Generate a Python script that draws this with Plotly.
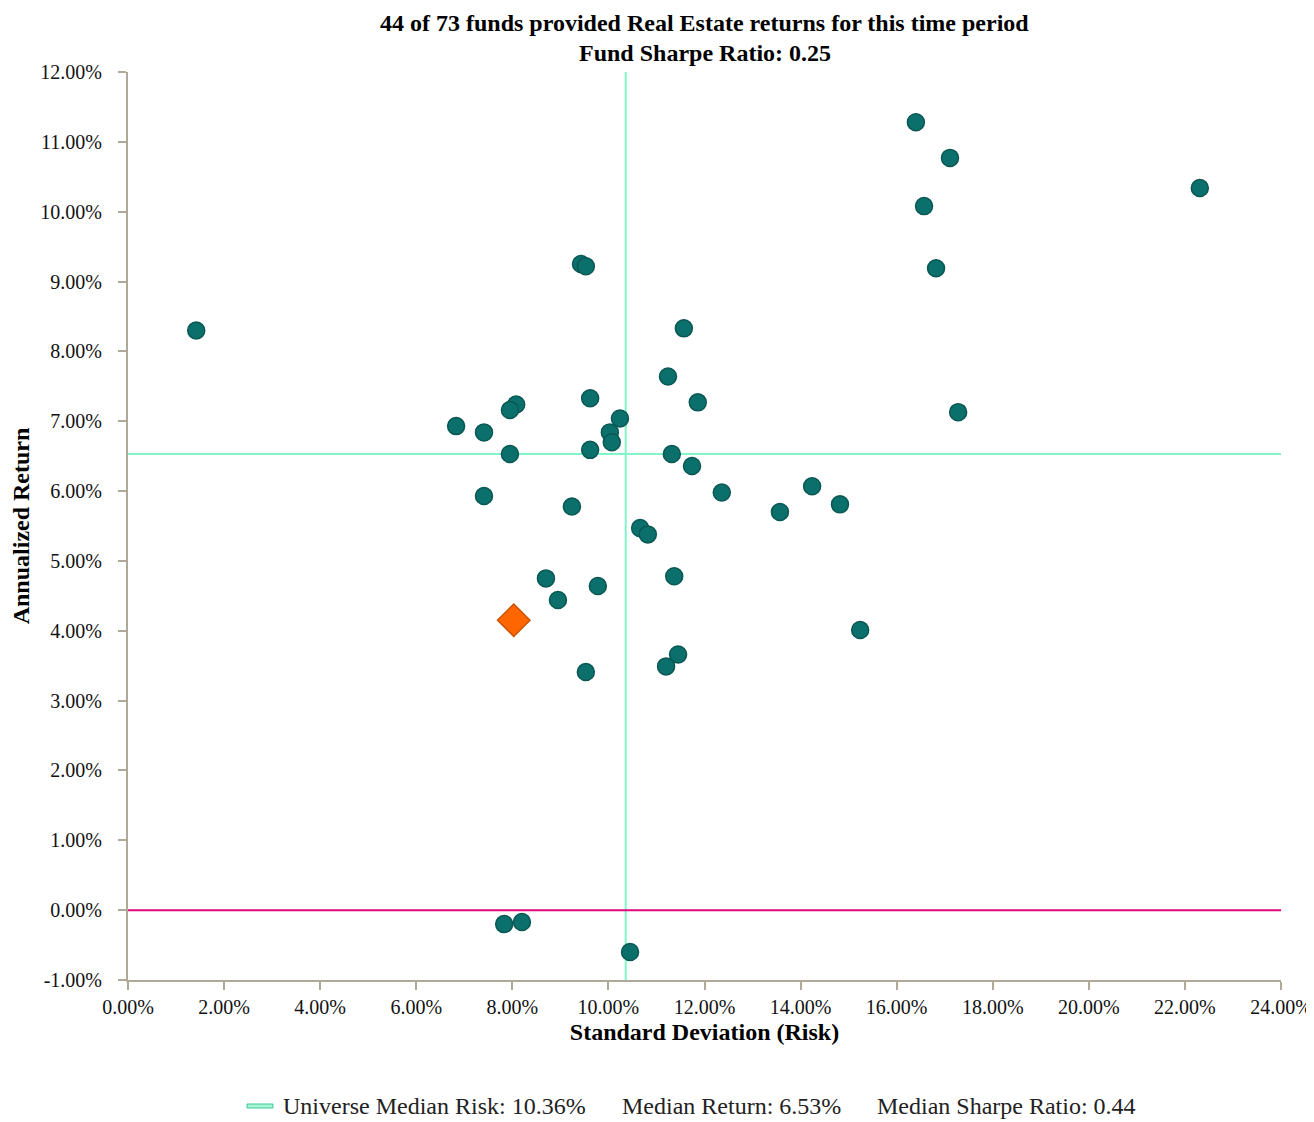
import plotly.graph_objects as go

# Universe funds: standard deviation (risk, %) and annualized return (%)
universe_risk = [16.40, 17.11, 16.57, 22.31, 16.82, 1.42, 9.43, 9.53, 11.57, 11.24,
                 11.86, 17.28, 9.62, 8.08, 7.95, 10.24, 6.83, 7.41, 10.03, 10.07,
                 7.95, 9.62, 11.32, 11.74, 12.36, 14.24, 14.82, 13.57, 7.41, 9.24,
                 10.66, 10.82, 8.70, 11.37, 9.78, 8.95, 15.24, 11.45, 11.20, 9.53,
                 7.83, 8.20, 10.45]
universe_return = [11.28, 10.77, 10.08, 10.34, 9.19, 8.30, 9.25, 9.22, 8.33, 7.64,
                   7.27, 7.13, 7.33, 7.24, 7.16, 7.04, 6.93, 6.84, 6.84, 6.70,
                   6.53, 6.59, 6.53, 6.36, 5.98, 6.07, 5.81, 5.70, 5.93, 5.78,
                   5.47, 5.38, 4.75, 4.78, 4.64, 4.44, 4.01, 3.66, 3.49, 3.41,
                   -0.20, -0.17, -0.60]

fund_risk = [8.03]
fund_return = [4.15]

median_risk = 10.36
median_return = 6.53
median_sharpe = 0.44
fund_sharpe = 0.25

x_ticks = [0, 2, 4, 6, 8, 10, 12, 14, 16, 18, 20, 22, 24]
y_ticks = [-1, 0, 1, 2, 3, 4, 5, 6, 7, 8, 9, 10, 11, 12]

FONT = "Liberation Serif, Times New Roman, serif"
AXIS_COLOR = "#b0a898"
MEDIAN_COLOR = "#80f5c8"
ZERO_COLOR = "#e0067c"

# plot area in screen pixels (page has an 8px body margin)
PX0, PX1, PY0, PY1 = 128, 1281, 72, 980
PW, PH = PX1 - PX0, PY1 - PY0


def px(xs):
    return (xs - PX0) / PW


def py(ys):
    return (PY1 - ys) / PH


fig = go.Figure()

fig.add_trace(go.Scatter(
    x=universe_risk, y=universe_return, mode="markers",
    marker=dict(size=17, color="#0b706b", line=dict(color="#0a5753", width=1.5)),
    showlegend=False, hoverinfo="x+y"))

fig.add_trace(go.Scatter(
    x=fund_risk, y=fund_return, mode="markers",
    marker=dict(symbol="diamond", size=25, color="#ff6600",
                line=dict(color="#c85400", width=1.5)),
    showlegend=False, hoverinfo="x+y"))

shapes = [
    dict(type="line", xref="x", yref="paper", x0=median_risk, x1=median_risk, y0=0, y1=1,
         line=dict(color=MEDIAN_COLOR, width=2), layer="below"),
    dict(type="line", xref="paper", yref="y", x0=0, x1=1, y0=median_return, y1=median_return,
         line=dict(color=MEDIAN_COLOR, width=2), layer="below"),
    dict(type="line", xref="paper", yref="y", x0=0, x1=1, y0=0, y1=0,
         line=dict(color=ZERO_COLOR, width=2), layer="below"),
    # legend symbol
    dict(type="rect", xref="paper", yref="paper",
         x0=px(247), x1=px(273), y0=py(1108), y1=py(1104),
         line=dict(color="#3cc99a", width=1), fillcolor="#a8f5d8"),
]

annotations = [
    dict(text="<b>44 of 73 funds provided Real Estate returns for this time period</b>",
         xref="paper", yref="paper", x=0.5, y=py(23), showarrow=False,
         font=dict(size=24, color="#000000", family=FONT), xanchor="center", yanchor="middle"),
    dict(text=f"<b>Fund Sharpe Ratio: {fund_sharpe:.2f}</b>",
         xref="paper", yref="paper", x=0.5, y=py(53), showarrow=False,
         font=dict(size=24, color="#000000", family=FONT), xanchor="center", yanchor="middle"),
    dict(text=f"Universe Median Risk: {median_risk:.2f}%",
         xref="paper", yref="paper", x=px(281), y=py(1106), showarrow=False,
         font=dict(size=24, color="#222222", family=FONT), xanchor="left", yanchor="middle"),
    dict(text=f"Median Return: {median_return:.2f}%",
         xref="paper", yref="paper", x=px(620), y=py(1106), showarrow=False,
         font=dict(size=24, color="#222222", family=FONT), xanchor="left", yanchor="middle"),
    dict(text=f"Median Sharpe Ratio: {median_sharpe:.2f}",
         xref="paper", yref="paper", x=px(875), y=py(1106), showarrow=False,
         font=dict(size=24, color="#222222", family=FONT), xanchor="left", yanchor="middle"),
]

fig.update_layout(
    width=1306, height=1114,
    margin=dict(l=PX0 - 8, r=1306 - (PX1 - 8), t=PY0 - 8, b=1114 - (PY1 - 8)),
    paper_bgcolor="white", plot_bgcolor="white",
    font=dict(family=FONT, color="#000000"),
    shapes=shapes, annotations=annotations,
    showlegend=False,
)

fig.update_xaxes(
    range=[0, 24], tickvals=x_ticks, ticktext=[f"{v:.2f}%" for v in x_ticks],
    showgrid=False, zeroline=False, showline=True, linecolor=AXIS_COLOR, linewidth=2,
    ticks="outside", ticklen=8, tickwidth=2, tickcolor=AXIS_COLOR,
    tickfont=dict(size=20, color="#111111", family=FONT),
    automargin=False,
    title=dict(text="<b>Standard Deviation (Risk)</b>", font=dict(size=24, family=FONT), standoff=6),
)
fig.update_yaxes(
    range=[-1, 12], tickvals=y_ticks, ticktext=[f"{v:.2f}%" for v in y_ticks],
    showgrid=False, zeroline=False, showline=True, linecolor=AXIS_COLOR, linewidth=2,
    ticks="outside", ticklen=8, tickwidth=2, tickcolor=AXIS_COLOR,
    ticklabelstandoff=12,
    tickfont=dict(size=20, color="#111111", family=FONT),
    automargin=False,
    title=dict(text="<b>Annualized Return</b>", font=dict(size=24, family=FONT), standoff=4),
)

fig.write_html("out.html")
